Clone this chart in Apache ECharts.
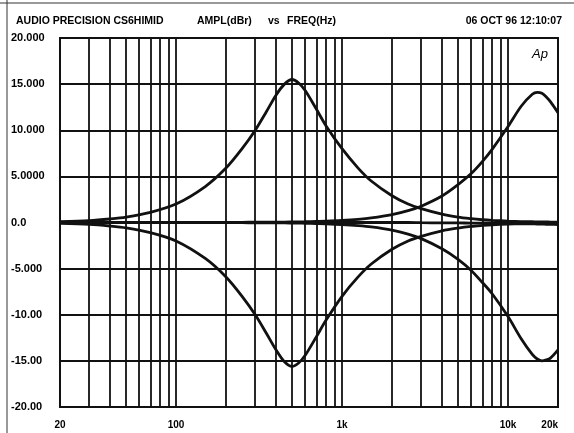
<!DOCTYPE html>
<html>
<head>
<meta charset="utf-8">
<script src="https://cdn.jsdelivr.net/npm/echarts@6/dist/echarts.min.js"></script>
<style>
  html, body { margin: 0; padding: 0; background: #fff; }
  #chart { width: 574px; height: 433px; }
</style>
</head>
<body>
<div id="chart"></div>
<script>
// frequencies (Hz) the curves were read at
var freqs = [20, 30, 40, 50, 70, 100, 150, 200, 250, 300, 350, 400, 450, 500, 550, 600, 700, 800,
  1000, 1250, 1500, 2000, 2500, 3000, 4000, 5000, 6000, 7000, 8000, 10000, 12000, 14000, 15000, 16000, 17000, 18000, 20000];

// amplitude (dBr) of each sweep
var midBoost = [0.1, 0.2, 0.38, 0.58, 1.1, 2.0, 3.9, 5.9, 8.0, 10.0, 12.0, 13.8, 15.0, 15.5, 15.1, 14.3, 12.3, 10.5,
  8.0, 5.9, 4.5, 2.9, 2.0, 1.5, 0.9, 0.58, 0.41, 0.3, 0.23, 0.15, 0.1, 0.08, 0.07, 0.06, 0.055, 0.05, 0.04];
var midCut = [-0.1, -0.2, -0.38, -0.58, -1.1, -2.0, -3.9, -5.9, -8.0, -10.0, -12.0, -13.8, -15.1, -15.6, -15.2, -14.4, -12.4, -10.6,
  -8.0, -5.9, -4.5, -2.9, -2.0, -1.5, -0.9, -0.6, -0.42, -0.32, -0.25, -0.18, -0.14, -0.12, -0.11, -0.1, -0.1, -0.1, -0.1];
var highBoost = [0, 0, 0, 0, 0, 0, 0.01, 0.01, 0.02, 0.03, 0.04, 0.05, 0.05, 0.06, 0.07, 0.08, 0.11, 0.14,
  0.22, 0.34, 0.49, 0.85, 1.28, 1.77, 2.87, 4.1, 5.3, 6.6, 7.9, 10.4, 12.6, 13.9, 14.1, 14.0, 13.6, 13.1, 11.9];
var highCut = [0, 0, 0, 0, 0, 0, -0.01, -0.01, -0.02, -0.03, -0.04, -0.05, -0.05, -0.06, -0.07, -0.08, -0.11, -0.14,
  -0.22, -0.34, -0.48, -0.83, -1.26, -1.75, -2.85, -4.0, -5.2, -6.5, -7.7, -10.2, -12.6, -14.3, -14.8, -15.0, -14.9, -14.7, -13.8];
var flat = [0, 0, 0, 0, 0, 0, 0, 0, 0, 0, 0, 0, 0, 0, 0, 0, 0, 0,
  0, 0, 0, 0, 0, -0.02, -0.04, -0.05, -0.06, -0.07, -0.08, -0.1, -0.12, -0.15, -0.17, -0.18, -0.19, -0.2, -0.22];

// vertical grid lines of the log frequency scale
var gridFreqs = [30, 40, 50, 60, 70, 80, 90, 100, 200, 300, 400, 500, 600, 700, 800, 900,
  1000, 2000, 3000, 4000, 5000, 6000, 7000, 8000, 9000, 10000];

// y tick values and the labels printed for them
var yTicks = [-20, -15, -10, -5, 0, 5, 10, 15, 20];
var yTickLabels = ['-20.00', '-15.00', '-10.00', '-5.000', '0.0', '5.0000', '10.000', '15.000', '20.000'];

function pairs(vals) {
  return freqs.map(function (f, i) { return [f, vals[i]]; });
}

var font = 'Liberation Sans, Arial, sans-serif';
var curveStyle = { color: '#111', width: 2.8 };
var headStyle = { fontFamily: font, fontSize: 10.5, fontWeight: 'bold', color: '#000' };

var chart = echarts.init(document.getElementById('chart'));
chart.setOption({
  animation: false,
  backgroundColor: '#fff',
  title: [
    { text: 'AUDIO PRECISION CS6HIMID', left: 11, top: 11, textStyle: headStyle },
    { text: 'AMPL(dBr)', left: 192, top: 11, textStyle: headStyle },
    { text: 'vs', left: 263, top: 11, textStyle: headStyle },
    { text: 'FREQ(Hz)', left: 282, top: 11, textStyle: headStyle },
    { text: '06 OCT 96 12:10:07', right: 7, top: 11, textStyle: headStyle },
    { text: 'Ap', left: 527, top: 43, textStyle: { fontFamily: font, fontSize: 13, fontStyle: 'italic', fontWeight: 'normal', color: '#000' } }
  ],
  graphic: [
    { type: 'line', shape: { x1: 7, y1: 0, x2: 7, y2: 433 }, style: { stroke: '#333', lineWidth: 1 }, silent: true },
    { type: 'line', shape: { x1: 0, y1: 3, x2: 574, y2: 3 }, style: { stroke: '#333', lineWidth: 1 }, silent: true }
  ],
  grid: {
    left: 60, right: 16, top: 38, height: 369,
    show: true, borderColor: '#111', borderWidth: 2, backgroundColor: 'transparent'
  },
  xAxis: {
    type: 'log',
    logBase: 10,
    min: 20,
    max: 20000,
    axisLine: { show: false },
    axisTick: { show: false },
    splitLine: { show: false },
    axisLabel: {
      margin: 13,
      fontFamily: font,
      fontSize: 10,
      fontWeight: 'bold',
      color: '#000',
      alignMaxLabel: 'right',
      formatter: function (v) { return v >= 1000 ? (v / 1000) + 'k' : String(v); }
    }
  },
  yAxis: {
    type: 'value',
    min: -20,
    max: 20,
    interval: 5,
    axisLine: { show: false },
    axisTick: { show: false },
    splitLine: { show: true, lineStyle: { color: '#111', width: 1.8 } },
    axisLabel: {
      align: 'left',
      margin: 49,
      fontFamily: font,
      fontSize: 11,
      fontWeight: 'bold',
      color: '#000',
      formatter: function (v) {
        var i = yTicks.indexOf(v);
        return i >= 0 ? yTickLabels[i] : '';
      }
    }
  },
  series: [
    {
      name: 'flat', type: 'line', data: pairs(flat), showSymbol: false, smooth: 0.3,
      lineStyle: curveStyle, silent: true, z: 3,
      markLine: {
        silent: true, symbol: 'none', label: { show: false },
        lineStyle: { color: '#111', width: 1.8, type: 'solid' },
        emphasis: { disabled: true },
        data: gridFreqs.map(function (f) { return { xAxis: f }; })
      }
    },
    { name: 'mid boost', type: 'line', data: pairs(midBoost), showSymbol: false, smooth: 0.3, lineStyle: curveStyle, silent: true, z: 4 },
    { name: 'mid cut', type: 'line', data: pairs(midCut), showSymbol: false, smooth: 0.3, lineStyle: curveStyle, silent: true, z: 4 },
    { name: 'high boost', type: 'line', data: pairs(highBoost), showSymbol: false, smooth: 0.3, lineStyle: curveStyle, silent: true, z: 4 },
    { name: 'high cut', type: 'line', data: pairs(highCut), showSymbol: false, smooth: 0.3, lineStyle: curveStyle, silent: true, z: 4 }
  ]
});
</script>
</body>
</html>
